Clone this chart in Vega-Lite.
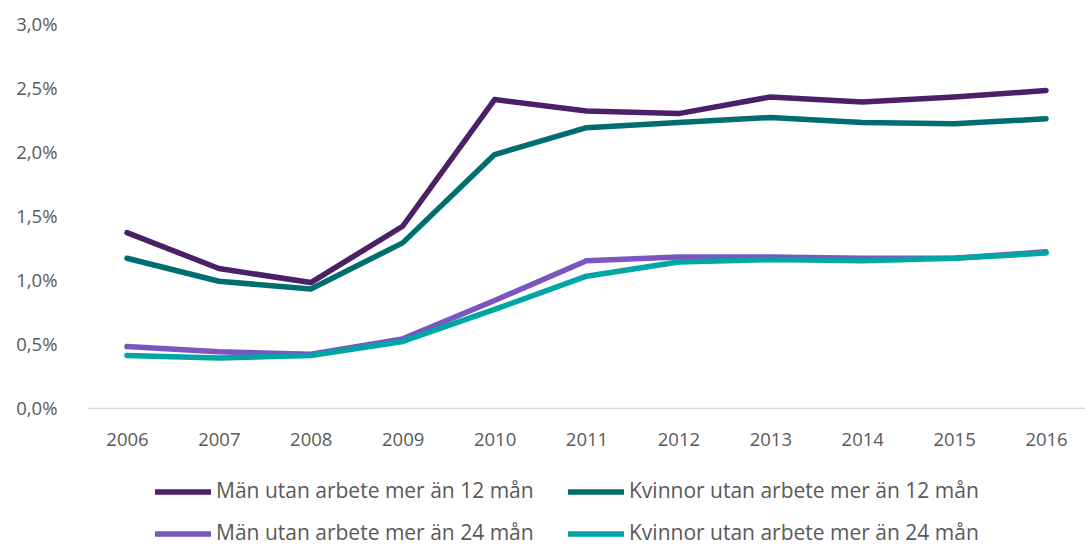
{
  "$schema": "https://vega.github.io/schema/vega-lite/v6.json",
  "autosize": {"type": "none"},
  "width": 997,
  "height": 384,
  "padding": {"left": 88, "top": 24, "right": 0, "bottom": 138},
  "background": "white",
  "config": {
    "view": {"stroke": null},
    "font": "Open Sans",
    "axis": {"labelFont": "Open Sans", "labelFontSize": 18.5, "labelColor": "#595959"},
    "legend": {"labelFont": "Open Sans", "labelFontSize": 21, "labelColor": "#595959"}
  },
  "data": {
    "values": [
      {"year": "2006", "series": "Män utan arbete mer än 12 mån", "value": 1.37},
      {"year": "2007", "series": "Män utan arbete mer än 12 mån", "value": 1.09},
      {"year": "2008", "series": "Män utan arbete mer än 12 mån", "value": 0.98},
      {"year": "2009", "series": "Män utan arbete mer än 12 mån", "value": 1.42},
      {"year": "2010", "series": "Män utan arbete mer än 12 mån", "value": 2.41},
      {"year": "2011", "series": "Män utan arbete mer än 12 mån", "value": 2.32},
      {"year": "2012", "series": "Män utan arbete mer än 12 mån", "value": 2.30},
      {"year": "2013", "series": "Män utan arbete mer än 12 mån", "value": 2.43},
      {"year": "2014", "series": "Män utan arbete mer än 12 mån", "value": 2.39},
      {"year": "2015", "series": "Män utan arbete mer än 12 mån", "value": 2.43},
      {"year": "2016", "series": "Män utan arbete mer än 12 mån", "value": 2.48},
      {"year": "2006", "series": "Kvinnor utan arbete mer än 12 mån", "value": 1.17},
      {"year": "2007", "series": "Kvinnor utan arbete mer än 12 mån", "value": 0.99},
      {"year": "2008", "series": "Kvinnor utan arbete mer än 12 mån", "value": 0.93},
      {"year": "2009", "series": "Kvinnor utan arbete mer än 12 mån", "value": 1.29},
      {"year": "2010", "series": "Kvinnor utan arbete mer än 12 mån", "value": 1.98},
      {"year": "2011", "series": "Kvinnor utan arbete mer än 12 mån", "value": 2.19},
      {"year": "2012", "series": "Kvinnor utan arbete mer än 12 mån", "value": 2.23},
      {"year": "2013", "series": "Kvinnor utan arbete mer än 12 mån", "value": 2.27},
      {"year": "2014", "series": "Kvinnor utan arbete mer än 12 mån", "value": 2.23},
      {"year": "2015", "series": "Kvinnor utan arbete mer än 12 mån", "value": 2.22},
      {"year": "2016", "series": "Kvinnor utan arbete mer än 12 mån", "value": 2.26},
      {"year": "2006", "series": "Män utan arbete mer än 24 mån", "value": 0.48},
      {"year": "2007", "series": "Män utan arbete mer än 24 mån", "value": 0.44},
      {"year": "2008", "series": "Män utan arbete mer än 24 mån", "value": 0.42},
      {"year": "2009", "series": "Män utan arbete mer än 24 mån", "value": 0.54},
      {"year": "2010", "series": "Män utan arbete mer än 24 mån", "value": 0.84},
      {"year": "2011", "series": "Män utan arbete mer än 24 mån", "value": 1.15},
      {"year": "2012", "series": "Män utan arbete mer än 24 mån", "value": 1.18},
      {"year": "2013", "series": "Män utan arbete mer än 24 mån", "value": 1.18},
      {"year": "2014", "series": "Män utan arbete mer än 24 mån", "value": 1.17},
      {"year": "2015", "series": "Män utan arbete mer än 24 mån", "value": 1.17},
      {"year": "2016", "series": "Män utan arbete mer än 24 mån", "value": 1.22},
      {"year": "2006", "series": "Kvinnor utan arbete mer än 24 mån", "value": 0.41},
      {"year": "2007", "series": "Kvinnor utan arbete mer än 24 mån", "value": 0.39},
      {"year": "2008", "series": "Kvinnor utan arbete mer än 24 mån", "value": 0.41},
      {"year": "2009", "series": "Kvinnor utan arbete mer än 24 mån", "value": 0.52},
      {"year": "2010", "series": "Kvinnor utan arbete mer än 24 mån", "value": 0.77},
      {"year": "2011", "series": "Kvinnor utan arbete mer än 24 mån", "value": 1.03},
      {"year": "2012", "series": "Kvinnor utan arbete mer än 24 mån", "value": 1.14},
      {"year": "2013", "series": "Kvinnor utan arbete mer än 24 mån", "value": 1.16},
      {"year": "2014", "series": "Kvinnor utan arbete mer än 24 mån", "value": 1.15},
      {"year": "2015", "series": "Kvinnor utan arbete mer än 24 mån", "value": 1.17},
      {"year": "2016", "series": "Kvinnor utan arbete mer än 24 mån", "value": 1.21}
    ]
  },
  "mark": {"type": "line", "strokeWidth": 5.5, "strokeCap": "round", "strokeJoin": "round"},
  "encoding": {
    "x": {
      "field": "year", "type": "ordinal",
      "scale": {"type": "point", "padding": 0.424},
      "axis": {"title": null, "labelAngle": 0, "ticks": false, "domainColor": "#D9D9D9", "domainWidth": 1.5, "labelPadding": 22}
    },
    "y": {
      "field": "value", "type": "quantitative",
      "scale": {"domain": [0, 3]},
      "axis": {"title": null, "values": [0, 0.5, 1, 1.5, 2, 2.5, 3], "grid": false, "domain": false, "ticks": false, "labelPadding": 31,
               "labelExpr": "replace(format(datum.value, '.1f'), '.', ',') + '%'"}
    },
    "color": {
      "field": "series", "type": "nominal",
      "scale": {
        "domain": ["Män utan arbete mer än 12 mån", "Kvinnor utan arbete mer än 12 mån", "Män utan arbete mer än 24 mån", "Kvinnor utan arbete mer än 24 mån"],
        "range": ["#4B2068", "#006E6E", "#7B55C0", "#00A6A3"]
      },
      "legend": {
        "title": null, "orient": "none", "legendX": 64, "legendY": 437, "columns": 2, "direction": "horizontal",
        "symbolType": "stroke", "symbolSize": 3136, "symbolStrokeWidth": 5.5,
        "labelOffset": 2, "columnPadding": 23, "rowPadding": -3,
        "labelLimit": 400
      }
    }
  }
}
